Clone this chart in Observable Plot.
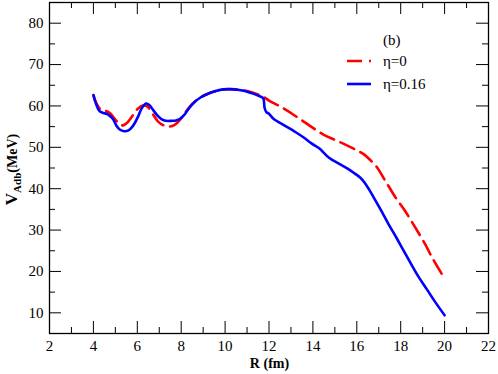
<!DOCTYPE html>
<html>
<head>
<meta charset="utf-8">
<script src="https://cdn.jsdelivr.net/npm/d3@7"></script>
<script src="https://cdn.jsdelivr.net/npm/@observablehq/plot@0.6"></script>
<style>
  html, body { margin: 0; padding: 0; background: #fff; }
  #chart svg { display: block; }
</style>
</head>
<body>
<div id="chart"></div>
<script>
// η = 0 (red dashed)
const rEta0 = [4.0, 4.15, 4.35, 4.55, 4.75, 5.0, 5.2, 5.35, 5.55, 5.75, 6.0, 6.25, 6.45, 6.7, 6.95, 7.2, 7.45, 7.7, 7.95, 8.2, 8.5, 8.8, 9.1, 9.5, 10.0, 10.5, 11.0, 11.5, 11.75, 12.0, 12.5, 13.0, 13.5, 14.0, 14.5, 15.0, 15.5, 16.0, 16.3, 16.6, 16.9, 17.3, 17.75, 18.2, 18.6, 19.1, 19.5, 20.0];
const vEta0 = [62.6, 60.5, 59.0, 58.8, 58.3, 56.7, 55.6, 55.3, 56.0, 57.4, 59.2, 60.1, 59.9, 58.1, 56.2, 55.3, 55.0, 55.4, 56.7, 58.5, 60.5, 61.8, 62.7, 63.5, 64.0, 64.0, 63.6, 62.8, 62.2, 61.3, 59.9, 58.3, 56.5, 54.7, 53.0, 51.8, 50.6, 49.3, 48.4, 47.0, 45.3, 41.9, 38.0, 34.6, 31.2, 26.7, 22.7, 18.3];
// η = 0.16 (blue solid)
const rEta16 = [4.0, 4.12, 4.27, 4.45, 4.6, 4.75, 4.9, 5.05, 5.2, 5.4, 5.6, 5.75, 5.9, 6.05, 6.2, 6.4, 6.55, 6.75, 6.95, 7.1, 7.3, 7.55, 7.77, 7.95, 8.15, 8.35, 8.6, 8.9, 9.2, 9.5, 9.9, 10.4, 10.9, 11.2, 11.5, 11.73, 11.8, 11.88, 12.0, 12.2, 12.6, 13.2, 13.6, 13.95, 14.3, 14.75, 15.2, 15.6, 15.9, 16.15, 16.35, 16.55, 16.8, 17.1, 17.45, 17.8, 18.05, 18.4, 18.8, 19.2, 19.6, 20.0];
const vEta16 = [62.6, 60.5, 58.8, 58.3, 58.1, 57.6, 56.8, 55.2, 54.3, 53.9, 54.1, 54.8, 56.0, 57.6, 59.4, 60.6, 60.2, 58.8, 57.5, 56.8, 56.4, 56.4, 56.5, 56.9, 57.9, 59.4, 60.9, 62.1, 62.9, 63.5, 64.0, 64.0, 63.6, 63.1, 62.5, 61.9, 59.5, 58.5, 58.1, 56.9, 55.6, 53.7, 52.3, 50.9, 49.7, 47.4, 46.0, 44.8, 43.7, 42.7, 41.5, 39.9, 37.6, 34.8, 31.4, 28.2, 25.8, 22.5, 18.8, 15.6, 12.4, 9.4];

const xMajor = [2, 4, 6, 8, 10, 12, 14, 16, 18, 20, 22];
const xMinor = [3, 5, 7, 9, 11, 13, 15, 17, 19, 21];
const yMajor = [10, 20, 30, 40, 50, 60, 70, 80];
const yMinor = [5, 15, 25, 35, 45, 55, 65, 75, 85];

const seriesNames = ["η=0", "η=0.16"];
const panelTag = "(b)";

const W = 498, H = 374;
const mL = 49, mR = 10, mT = 2, mB = 41;
const plotW = W - mL - mR, plotH = H - mT - mB;
const majorLen = 12, minorLen = 6;
const red = "#ff0000", blue = "#0000ff";
const serifFont = "Liberation Serif";

const data0 = rEta0.map((r, i) => ({r, v: vEta0[i]}));
const data16 = rEta16.map((r, i) => ({r, v: vEta16[i]}));

const chart = Plot.plot({
  width: W, height: H,
  marginLeft: mL, marginRight: mR, marginTop: mT, marginBottom: mB,
  style: {fontSize: "15px", color: "#000", background: "#fff", fontFamily: serifFont},
  x: {domain: [2, 22]},
  y: {domain: [5, 85]},
  marks: [
    Plot.axisX(xMajor, {anchor: "bottom", tickSize: 0, tickPadding: 7, label: null, fontSize: 15}),
    Plot.axisY(yMajor, {anchor: "left", tickSize: 0, tickPadding: 6, label: null, fontSize: 15}),
    Plot.tickX(xMajor, {x: d => d, insetTop: plotH - majorLen, stroke: "#000"}),
    Plot.tickX(xMinor, {x: d => d, insetTop: plotH - minorLen, stroke: "#000"}),
    Plot.tickX(xMajor, {x: d => d, insetBottom: plotH - majorLen, stroke: "#000"}),
    Plot.tickX(xMinor, {x: d => d, insetBottom: plotH - minorLen, stroke: "#000"}),
    Plot.tickY(yMajor, {y: d => d, insetRight: plotW - majorLen, stroke: "#000"}),
    Plot.tickY(yMinor, {y: d => d, insetRight: plotW - minorLen, stroke: "#000"}),
    Plot.tickY(yMajor, {y: d => d, insetLeft: plotW - majorLen, stroke: "#000"}),
    Plot.tickY(yMinor, {y: d => d, insetLeft: plotW - minorLen, stroke: "#000"}),
    Plot.line(data0, {x: "r", y: "v", stroke: red, strokeWidth: 2.6, strokeDasharray: "15,7", curve: "catmull-rom"}),
    Plot.line(data16, {x: "r", y: "v", stroke: blue, strokeWidth: 2.6, curve: "catmull-rom"}),
    Plot.frame({stroke: "#000", strokeWidth: 1.3})
  ]
});

chart.setAttribute("font-family", serifFont);
document.getElementById("chart").appendChild(chart);

const svg = d3.select(chart);
svg.append("text")
  .attr("x", mL + plotW / 2 + 1).attr("y", H - 6)
  .attr("text-anchor", "middle")
  .attr("font-weight", "bold").attr("font-size", 14)
  .text("R (fm)");

const yt = svg.append("text")
  .attr("transform", `translate(17, ${mT + plotH / 2 + 2}) rotate(-90)`)
  .attr("text-anchor", "middle")
  .attr("font-weight", "bold").attr("font-size", 14);
yt.append("tspan").attr("font-size", 17).text("V");
yt.append("tspan").attr("font-size", 11).attr("dy", 4).text("Adb");
yt.append("tspan").attr("dy", -4).text("(MeV)");

const lg = svg.append("g").attr("font-size", 15).attr("text-anchor", "start");
lg.append("text").attr("x", 383).attr("y", 45).text(panelTag);
lg.append("line").attr("x1", 347).attr("x2", 371).attr("y1", 61).attr("y2", 61)
  .attr("stroke", red).attr("stroke-width", 2.6).attr("stroke-dasharray", "15,7");
lg.append("text").attr("x", 383).attr("y", 66).text(seriesNames[0]);
lg.append("line").attr("x1", 347).attr("x2", 371).attr("y1", 84).attr("y2", 84)
  .attr("stroke", blue).attr("stroke-width", 2.6);
lg.append("text").attr("x", 383).attr("y", 89).text(seriesNames[1]);

// force serif on every text element
chart.querySelectorAll("text, tspan, g").forEach(el => {
  el.setAttribute("font-family", serifFont);
  el.style.setProperty("font-family", serifFont, "important");
});
</script>
</body>
</html>
